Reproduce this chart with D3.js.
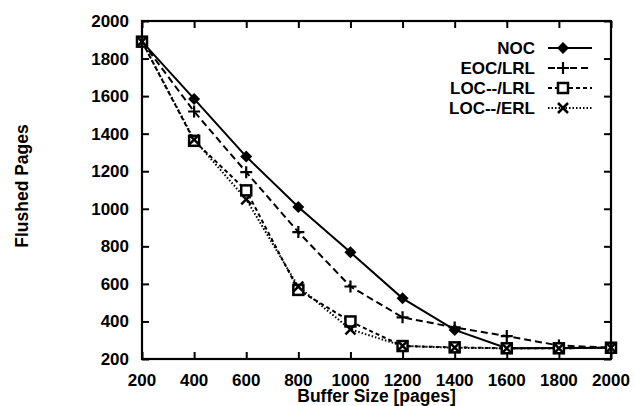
<!DOCTYPE html>
<html>
<head>
<meta charset="utf-8">
<script src="https://cdn.jsdelivr.net/npm/d3@7"></script>
<style>
  body { margin: 0; background: white; }
  svg { display: block; }
  text { font-family: "Liberation Sans", Arial, sans-serif; font-weight: bold; fill: black; }
</style>
</head>
<body>
<div id="chart"></div>
<script>
// buffer sizes (x) and flushed pages for each policy
var bufferSizes = [200, 400, 600, 800, 1000, 1200, 1400, 1600, 1800, 2000]
var noc      = [1890, 1585, 1278, 1010, 768, 523, 355, 257, 258, 260]
var eocLrl   = [1890, 1518, 1195, 876, 586, 422, 368, 322, 272, 260]
var locLrl   = [1890, 1362, 1098, 568, 400, 269, 262, 257, 257, 260]
var locErl   = [1890, 1368, 1050, 585, 358, 270, 260, 257, 257, 260]
var seriesNames = ['NOC', 'EOC/LRL', 'LOC--/LRL', 'LOC--/ERL']
var xTicks = [200, 400, 600, 800, 1000, 1200, 1400, 1600, 1800, 2000]
var yTicks = [200, 400, 600, 800, 1000, 1200, 1400, 1600, 1800, 2000]

var width = 635, height = 406
var plotLeft = 142, plotRight = 611, plotTop = 21, plotBottom = 359
var tickLen = 7

var svg = d3.select('#chart').append('svg')
  .attr('width', width)
  .attr('height', height)

var xMap = d3.scaleLinear().domain([200, 2000]).range([plotLeft, plotRight])
var yMap = d3.scaleLinear().domain([200, 2000]).range([plotBottom, plotTop])

var series = [
  { name: seriesNames[0], values: noc,    dash: null,    marker: 'diamond' },
  { name: seriesNames[1], values: eocLrl, dash: '7,4',   marker: 'plus' },
  { name: seriesNames[2], values: locLrl, dash: '4,3',   marker: 'square' },
  { name: seriesNames[3], values: locErl, dash: '1.5,2', marker: 'cross' }
]

function drawMarker(g, type, x, y) {
  if (type === 'diamond') {
    g.append('path')
      .attr('d', 'M' + x + ',' + (y - 6) + 'L' + (x + 6) + ',' + y + 'L' + x + ',' + (y + 6) + 'L' + (x - 6) + ',' + y + 'Z')
      .style('fill', 'black')
  } else if (type === 'plus') {
    g.append('path')
      .attr('d', 'M' + (x - 6) + ',' + y + 'H' + (x + 6) + 'M' + x + ',' + (y - 6) + 'V' + (y + 6))
      .style('stroke', 'black')
      .style('stroke-width', 2.2)
  } else if (type === 'square') {
    g.append('rect')
      .attr('x', x - 5).attr('y', y - 5)
      .attr('width', 10).attr('height', 10)
      .style('fill', 'white')
      .style('stroke', 'black')
      .style('stroke-width', 2.5)
  } else {
    g.append('path')
      .attr('d', 'M' + (x - 5) + ',' + (y - 5) + 'L' + (x + 5) + ',' + (y + 5) + 'M' + (x + 5) + ',' + (y - 5) + 'L' + (x - 5) + ',' + (y + 5))
      .style('stroke', 'black')
      .style('stroke-width', 2.5)
  }
}

var line = d3.line()
  .x((d, i) => xMap(bufferSizes[i]))
  .y(d => yMap(d))

var gLines = svg.append('g')

series.forEach(s => {
  gLines.append('path')
    .datum(s.values)
    .style('fill', 'none')
    .style('stroke', 'black')
    .style('stroke-width', 2)
    .style('stroke-dasharray', s.dash)
    .attr('d', line)
})

series.forEach(s => {
  s.values.forEach((v, i) => drawMarker(gLines, s.marker, xMap(bufferSizes[i]), yMap(v)))
})

// frame with inward ticks on all sides
var gAxes = svg.append('g')

gAxes.append('g')
  .attr('transform', 'translate(0,' + plotBottom + ')')
  .call(d3.axisTop(xMap).tickValues(xTicks).tickSize(tickLen).tickFormat(''))
gAxes.append('g')
  .attr('transform', 'translate(0,' + plotTop + ')')
  .call(d3.axisBottom(xMap).tickValues(xTicks).tickSize(tickLen).tickFormat(''))
gAxes.append('g')
  .attr('transform', 'translate(' + plotLeft + ',0)')
  .call(d3.axisRight(yMap).tickValues(yTicks).tickSize(tickLen).tickFormat(''))
gAxes.append('g')
  .attr('transform', 'translate(' + plotRight + ',0)')
  .call(d3.axisLeft(yMap).tickValues(yTicks).tickSize(tickLen).tickFormat(''))

gAxes.selectAll('.domain').remove()
gAxes.selectAll('line').style('stroke', 'black').style('stroke-width', 2)

gAxes.append('rect')
  .attr('x', plotLeft).attr('y', plotTop)
  .attr('width', plotRight - plotLeft).attr('height', plotBottom - plotTop)
  .style('fill', 'none')
  .style('stroke', 'black')
  .style('stroke-width', 2.2)

// tick labels
svg.append('g').selectAll('text')
  .data(xTicks).enter().append('text')
  .attr('x', d => xMap(d))
  .attr('y', plotBottom + 27)
  .style('text-anchor', 'middle')
  .style('font-size', '17px')
  .text(d => d)

svg.append('g').selectAll('text')
  .data(yTicks).enter().append('text')
  .attr('x', plotLeft - 13)
  .attr('y', d => yMap(d) + 6)
  .style('text-anchor', 'end')
  .style('font-size', '17px')
  .text(d => d)

svg.append('text')
  .attr('x', (plotLeft + plotRight) / 2)
  .attr('y', 402)
  .style('text-anchor', 'middle')
  .style('font-size', '17.5px')
  .text('Buffer Size [pages]')

svg.append('text')
  .attr('transform', 'translate(28,' + 186 + ') rotate(-90)')
  .style('text-anchor', 'middle')
  .style('font-size', '17.5px')
  .text('Flushed Pages')

// legend
var gLegend = svg.append('g')
series.forEach((s, i) => {
  var y = 48 + i * 20
  gLegend.append('text')
    .attr('x', 535)
    .attr('y', y + 6)
    .style('text-anchor', 'end')
    .style('font-size', '17px')
    .text(s.name)
  gLegend.append('line')
    .attr('x1', 548).attr('x2', 592)
    .attr('y1', y).attr('y2', y)
    .style('stroke', 'black')
    .style('stroke-width', 2)
    .style('stroke-dasharray', s.dash)
  drawMarker(gLegend, s.marker, 563, y)
})
</script>
</body>
</html>
